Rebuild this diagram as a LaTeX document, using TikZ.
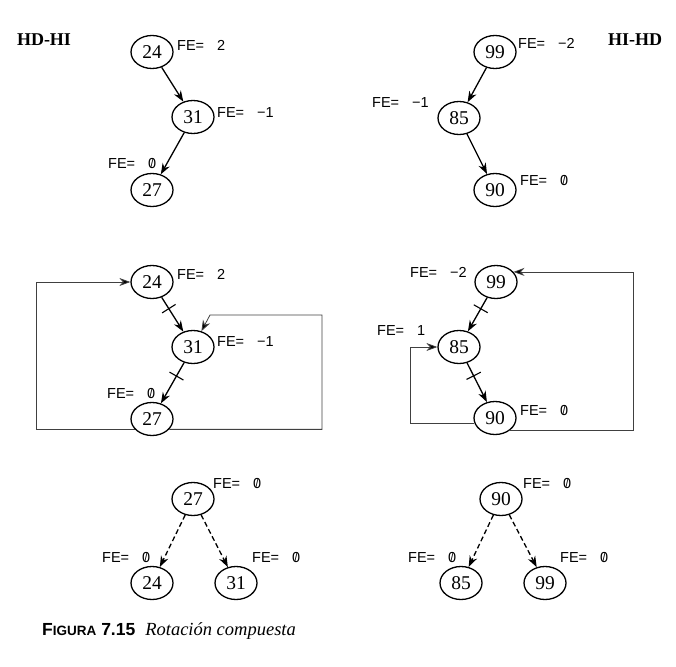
\documentclass[tikz,border=0pt]{standalone}
\usepackage{fontspec}
\setmainfont{Liberation Serif}
\newfontfamily\lblfont{Liberation Sans}
\usetikzlibrary{arrows.meta,decorations.markings,shapes.geometric}
\newcommand{\fe}[1]{{\lblfont\fontsize{14.5}{17}\selectfont\makebox[40pt][l]{FE=}#1}}
\newcommand{\zr}{\ooalign{0\cr\hidewidth\raisebox{0.05ex}{\scalebox{0.75}[0.85]{/}}\hidewidth\cr}}
\tikzset{
  nd/.style={ellipse, draw, line width=1.3pt, minimum width=42pt, minimum height=33pt, inner sep=0pt, font=\fontsize{19.5}{20}\selectfont},
  lbl/.style={anchor=west, inner sep=0pt},
  edg/.style={line width=1.3pt, -{Stealth[length=11pt,width=8pt]}},
  dedg/.style={edg, dash pattern=on 5pt off 3pt},
  lp/.style={line width=0.8pt, draw=black!75, -{Stealth[length=11pt,width=8pt,fill=black]}},
  crossed/.style={postaction={decorate, decoration={markings, mark=at position 0.33 with {\draw[-,line width=1.1pt,solid,black] (0,-8pt) -- (0,8pt);}}}}
}
\begin{document}
\begin{tikzpicture}[x=1pt,y=-1pt]
\useasboundingbox (0,0) rectangle (676,666);
% titles
\node[inner sep=0pt, font=\bfseries\fontsize{18}{20}\selectfont] (hdhi) at (44,40) {HD-HI};
\node[inner sep=0pt, font=\bfseries\fontsize{18}{20}\selectfont] (hihd) at (635,40) {HI-HD};
% ---- top left
\node[nd] (t24) at (152,52) {24};
\node[nd] (t31) at (193,117) {31};
\node[nd] (t27) at (152,190) {27};
\node[lbl] (lt24) at (177,45) {\fe{2}};
\node[lbl] (lt31) at (217,113) {\fe{−1}};
\node[lbl] (lt27) at (108,163) {\fe{\zr}};
\draw[edg] (t24) -- (t31);
\draw[edg] (t31) -- (t27);
% ---- top right
\node[nd] (u99) at (495,52) {99};
\node[nd] (u85) at (459,118) {85};
\node[nd] (u90) at (495,190) {90};
\node[lbl] (lu99) at (518,43) {\fe{−2}};
\node[lbl] (lu85) at (372,103) {\fe{−1}};
\node[lbl] (lu90) at (520,180) {\fe{\zr}};
\draw[edg] (u99) -- (u85);
\draw[edg] (u85) -- (u90);
% ---- middle left
\node[nd] (m24) at (152,282) {24};
\node[nd] (m31) at (193,347) {31};
\node[nd] (m27) at (152,419) {27};
\node[lbl] (lm24) at (177,274) {\fe{2}};
\node[lbl] (lm31) at (217,342) {\fe{−1}};
\node[lbl] (lm27) at (107,393) {\fe{\zr}};
\draw[edg, crossed] (m24) -- (m31);
\draw[edg, crossed] (m31) -- (m27);
\coordinate (L1) at (36,0);
\coordinate (R1) at (322,315);
\coordinate (R1b) at (210,315);
\draw[lp] (m27.211) -| (L1 |- m24.west) -- (m24.west);
\draw[lp] (m27.329) -| (R1) -- (R1b) -- (m31.62);
% ---- middle right
\node[nd] (n99) at (496,282) {99};
\node[nd] (n85) at (459,347) {85};
\node[nd] (n90) at (495,418) {90};
\node[lbl] (ln99) at (410,272) {\fe{−2}};
\node[lbl] (ln85) at (377,331) {\fe{1}};
\node[lbl] (ln90) at (520,410) {\fe{\zr}};
\draw[edg, crossed] (n99) -- (n85);
\draw[edg, crossed] (n85) -- (n90);
\coordinate (L2) at (410,0);
\coordinate (R2) at (633,0);
\draw[lp] (n90.194) -| (L2 |- n85.west) -- (n85.west);
\draw[lp] (n90.318) -| (R2 |- n99.30) -- (n99.30);
% ---- bottom left
\node[nd] (b27) at (193,499) {27};
\node[nd] (b24) at (152,583) {24};
\node[nd] (b31) at (236,583) {31};
\node[lbl] (lb27) at (213,483) {\fe{\zr}};
\node[lbl] (lb24) at (102,557) {\fe{\zr}};
\node[lbl] (lb31) at (252,557) {\fe{\zr}};
\draw[dedg] (b27) -- (b24);
\draw[dedg] (b27) -- (b31);
% ---- bottom right
\node[nd] (c90) at (501,499) {90};
\node[nd] (c85) at (461,583) {85};
\node[nd] (c99) at (545,583) {99};
\node[lbl] (lc90) at (523,483) {\fe{\zr}};
\node[lbl] (lc85) at (408,557) {\fe{\zr}};
\node[lbl] (lc99) at (560,557) {\fe{\zr}};
\draw[dedg] (c90) -- (c85);
\draw[dedg] (c90) -- (c99);
% caption
\node[anchor=base west, inner sep=0pt] (cap) at (42,635) {{\lblfont\bfseries\fontsize{17.5}{20}\selectfont F{\fontsize{13.5}{16}\selectfont IGURA} 7.15}\hspace{10pt}{\itshape\fontsize{18.5}{20}\selectfont Rotación compuesta}};
\end{tikzpicture}
\end{document}
